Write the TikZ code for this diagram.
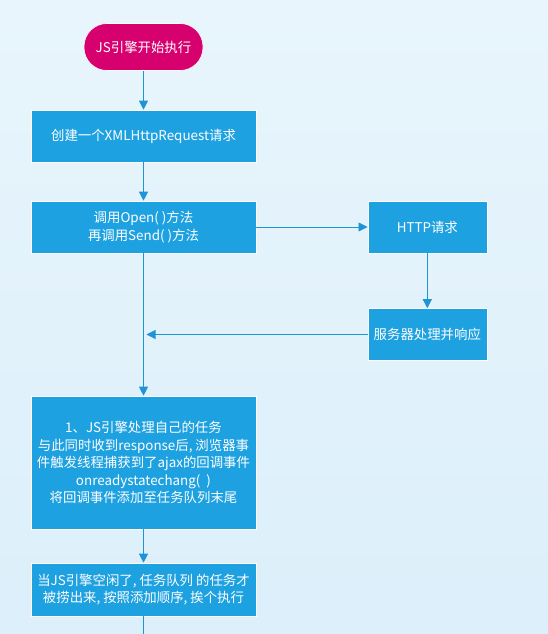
\documentclass[tikz,border=0pt]{standalone}
\usepackage{fontspec}
\setmainfont{Noto Sans CJK SC}
\usetikzlibrary{arrows.meta, positioning}
\definecolor{flBackTop}{HTML}{E8F5FC}
\definecolor{flBackBot}{HTML}{DCEFFA}
\definecolor{flBox}{HTML}{1DA1E1}
\definecolor{flStart}{HTML}{D6006F}
\definecolor{flLine}{HTML}{1E94D6}

\begin{document}
\begin{tikzpicture}[
    x=1pt, y=1pt,
    stepbox/.style={draw=white, line width=0.6pt, fill=flBox, text=white,
                    minimum width=225pt, align=center, inner sep=2pt,
                    font=\fontsize{13.4}{17.5}\selectfont},
    sidebox/.style={stepbox, minimum width=119pt, minimum height=52pt},
    startbox/.style={draw=white, line width=0.6pt, fill=flStart, text=white,
                     rounded corners=23pt, minimum width=119pt, minimum height=47pt,
                     font=\fontsize{13.4}{17.5}\selectfont},
    fw/.style={-{Triangle[length=9pt, width=9pt]}, line width=0.8pt, draw=flLine},
  ]
  \useasboundingbox (0,0) rectangle (548,-634);
  \shade[top color=flBackTop, bottom color=flBackBot] (0,0) rectangle (548,-634);

  \node[startbox] (start) at (143.5,-47) {JS引擎开始执行};
  \node[stepbox, minimum height=52pt] (create) at (143.5,-136) {创建一个XMLHttpRequest请求};
  \node[stepbox, minimum height=52pt] (send) at (143.5,-227) {调用Open( )方法\\再调用Send( )方法};
  \node[sidebox] (http) at (427.3,-227) {HTTP请求};
  \node[sidebox] (server) at (427.3,-334.5) {服务器处理并响应};
  \node[stepbox, minimum height=133pt] (task) at (143.5,-462.5)
    {1、JS引擎处理自己的任务\\与此同时收到response后, 浏览器事\\件触发线程捕获到了ajax的回调事件\\onreadystatechang(\ \ )\\将回调事件添加至任务队列末尾};
  \node[stepbox, minimum height=53pt] (queue) at (143.5,-589.5)
    {当JS引擎空闲了, 任务队列 的任务才\\被捞出来, 按照添加顺序, 挨个执行};
  \coordinate (back) at (146.5,-334.5);
  \coordinate (bottom) at (143.5,-634);

  \draw[fw] (start) -- (create);
  \draw[fw] (create) -- (send);
  \draw[fw] (send) -- (http);
  \draw[fw] (http) -- (server);
  \draw[fw] (server) -- (back);
  \draw[fw] (send) -- (task);
  \draw[fw] (task) -- (queue);
  \draw[flLine, line width=0.8pt] (queue) -- (bottom);
\end{tikzpicture}
\end{document}
